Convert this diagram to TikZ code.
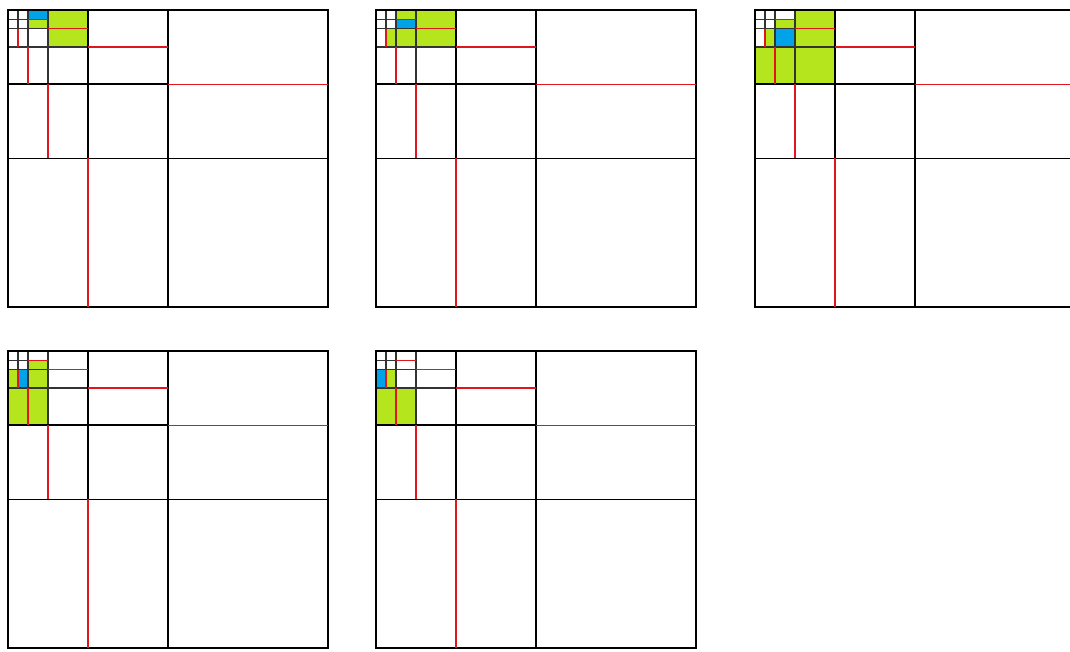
\documentclass[tikz,border=0pt]{standalone}
\usepackage{xcolor}
\usepackage{tikz}

\definecolor{limefill}{HTML}{B5E61D}
\definecolor{bluefill}{HTML}{00A2E8}
\definecolor{splitred}{HTML}{E0161E}

\tikzset{
  cellgreen/.style={fill=limefill},
  cellblue/.style={fill=bluefill},
  gridline/.style={draw=black, line width=1.9pt},
  finegrid/.style={draw=black!80, line width=1.4pt},
  splitline/.style={draw=splitred, line width=1.4pt},
  unitcell/.style={x=10pt, y=-9.28pt}
}

% one quadtree panel, refined towards the top left corner
\newcommand{\quadgrid}{%
  \foreach \s in {8,4,2}{
    \pgfmathsetmacro{\h}{\s/2}
    \draw[finegrid] (0,0) rectangle (\s,\s);
    \draw[finegrid] (\h,0) -- (\h,\s) (0,\h) -- (\s,\h);
  }
  \foreach \s in {32,16}{
    \pgfmathsetmacro{\h}{\s/2}
    \draw[gridline] (0,0) rectangle (\s,\s);
    \draw[gridline] (\h,0) -- (\h,\s) (0,\h) -- (\s,\h);
  }
  \foreach \s in {32,16,8,4}{
    \pgfmathsetmacro{\h}{\s/2}
    \pgfmathsetmacro{\q}{\s/4}
    \draw[splitline] (\h,\q) -- (\s,\q);
    \draw[splitline] (\q,\h) -- (\q,\s);
  }
}

\begin{document}
\begin{tikzpicture}[x=1pt, y=-1pt]
  \clip (0,0) rectangle (1070,651);
  \fill[white] (0,0) rectangle (1070,651);

  % step 1
  \begin{scope}[shift={(8,10)}, unitcell]
    \fill[cellblue] (2,0) rectangle (4,1);
    \fill[cellgreen] (2,1) rectangle (4,2);
    \fill[cellgreen] (4,0) rectangle (8,4);
    \quadgrid
  \end{scope}

  % step 2
  \begin{scope}[shift={(376,10)}, unitcell]
    \fill[cellgreen] (2,0) rectangle (4,1);
    \fill[cellblue] (2,1) rectangle (4,2);
    \fill[cellgreen] (1,2) rectangle (4,4);
    \fill[cellgreen] (4,0) rectangle (8,4);
    \quadgrid
  \end{scope}

  % step 3
  \begin{scope}[shift={(755,10)}, unitcell]
    \fill[cellgreen] (2,1) rectangle (4,2);
    \fill[cellblue] (2,2) rectangle (4,4);
    \fill[cellgreen] (1,2) rectangle (2,4);
    \fill[cellgreen] (4,0) rectangle (8,4);
    \fill[cellgreen] (0,4) rectangle (8,8);
    \quadgrid
  \end{scope}

  % step 4
  \begin{scope}[shift={(8,351)}, unitcell]
    \fill[cellgreen] (2,1) rectangle (4,4);
    \fill[cellblue] (1,2) rectangle (2,4);
    \fill[cellgreen] (0,2) rectangle (1,4);
    \fill[cellgreen] (0,4) rectangle (4,8);
    \quadgrid
  \end{scope}

  % step 5
  \begin{scope}[shift={(376,351)}, unitcell]
    \fill[cellblue] (0,2) rectangle (1,4);
    \fill[cellgreen] (1,2) rectangle (2,4);
    \fill[cellgreen] (0,4) rectangle (4,8);
    \quadgrid
  \end{scope}
\end{tikzpicture}
\end{document}
